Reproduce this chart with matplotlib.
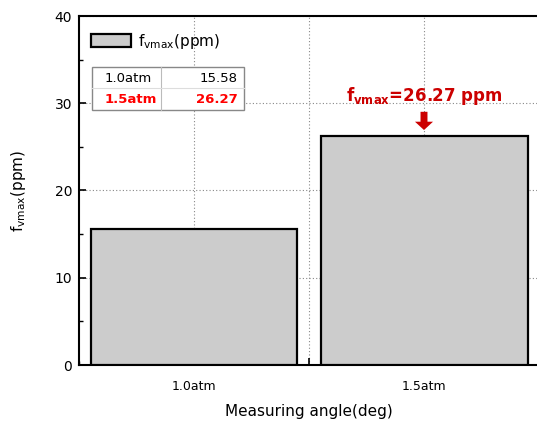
import matplotlib
matplotlib.use("Agg")
import matplotlib.pyplot as plt
from matplotlib.patches import Rectangle
from matplotlib.ticker import MultipleLocator, FixedLocator
import numpy as np

# data
categories = ["1.0atm", "1.5atm"]
positions = [1.0, 2.0]
values = [15.58, 26.27]
series_label = r"f$_{\mathrm{vmax}}$(ppm)"
peak_idx = 1

BAR_GREY = "#cccccc"
DARK_RED = "#cc0000"
RED = "#ff0000"

plt.rcParams["font.family"] = ["DejaVu Sans"]
plt.rcParams["mathtext.fontset"] = "dejavusans"

fig = plt.figure(figsize=(5.37, 4.23), dpi=100)
ax = fig.add_axes([79 / 537, 58 / 423, 460 / 537, 349 / 423])

bars = ax.bar(positions, values, width=0.9, color=BAR_GREY, edgecolor="black",
              linewidth=1.6, label=series_label, zorder=3)

ax.set_xlim(0.5, 2.5)
ax.set_ylim(0, 40)

# ticks + grid
ax.xaxis.set_major_locator(FixedLocator([1.0, 1.5, 2.0, 2.5]))
ax.xaxis.set_minor_locator(MultipleLocator(0.25))
ax.set_xticklabels([categories[0], "", categories[1], ""])
ax.yaxis.set_major_locator(MultipleLocator(10))
ax.yaxis.set_minor_locator(MultipleLocator(5))
ax.tick_params(which="both", direction="in", top=False, right=False)
ax.tick_params(which="major", length=5, width=1.2)
ax.tick_params(which="minor", length=3, width=1.0)
ax.tick_params(axis="x", labelsize=9, pad=11)
ax.tick_params(axis="y", labelsize=10, pad=5)
ax.grid(True, which="major", linestyle=(0, (1, 2)), color="#888888", linewidth=0.8, zorder=0)

for s in ax.spines.values():
    s.set_linewidth(1.5)

ax.set_xlabel("Measuring angle(deg)", fontsize=11, labelpad=8)
ax.set_ylabel(r"f$_{\mathrm{vmax}}$(ppm)", fontsize=11, labelpad=19)

# legend
leg = ax.legend(loc="upper left", bbox_to_anchor=(0.026, 0.955), frameon=False,
                fontsize=11, handlelength=2.6, handleheight=1.0, handletextpad=0.45,
                borderpad=0, borderaxespad=0)
leg.set_zorder(6)

# small value table
x0, x1, xm = 0.0283, 0.3587, 0.178
y0, y1, ym = 0.731, 0.854, 0.794
ax.add_patch(Rectangle((x0, y0), x1 - x0, y1 - y0, transform=ax.transAxes,
                       facecolor="white", edgecolor="#888888", linewidth=1.0, zorder=5))
ax.plot([xm, xm], [y0, y1], transform=ax.transAxes, color="#bbbbbb", linewidth=0.8, zorder=6)
ax.plot([x0, x1], [ym, ym], transform=ax.transAxes, color="#dddddd", linewidth=0.8, zorder=6)
row_y = [0.8195, 0.762]
for i, (cat, val) in enumerate(zip(categories, values)):
    hot = i == peak_idx
    kw = dict(transform=ax.transAxes, va="center", fontsize=9.5, zorder=7,
              color=RED if hot else "black", fontweight="bold" if hot else "normal")
    ax.text(0.0565, row_y[i], cat, ha="left", **kw)
    ax.text(0.3457, row_y[i], f"{val:.2f}", ha="right", **kw)

# annotation of the peak
px, pv = positions[peak_idx], values[peak_idx]
ax.annotate("", xy=(px, pv + 0.66), xytext=(px, pv + 2.75),
            arrowprops=dict(arrowstyle="simple,head_width=1.3,head_length=0.6,tail_width=0.5",
                            mutation_scale=10, shrinkA=0, shrinkB=0,
                            color=DARK_RED, linewidth=0), zorder=6)
ax.text(px, pv + 4.6, r"f$_{\mathbf{vmax}}$=" + f"{pv:.2f} ppm", ha="center", va="center",
        fontsize=12, fontweight="bold", color=DARK_RED, zorder=6)

fig.savefig("out.png", dpi=100)
